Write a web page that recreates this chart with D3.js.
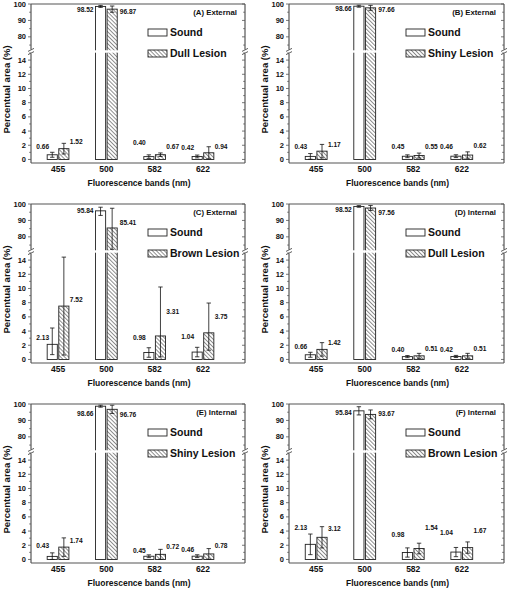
<!DOCTYPE html>
<html><head><meta charset="utf-8">
<script src="https://cdn.jsdelivr.net/npm/d3@7"></script>
<style>
body{margin:0;background:#fff}
text{font-family:"Liberation Sans",Arial,sans-serif;font-weight:bold;fill:#111}
</style>
</head><body>
<svg id="chart" width="510" height="590"></svg>
<script>
// ---------- data ----------
const bands = ["455", "500", "582", "622"];
const panelTitles = ["(A) External", "(B) External", "(C) External", "(D) Internal", "(E) Internal", "(F) Internal"];
const lesionNames = ["Dull Lesion", "Shiny Lesion", "Brown Lesion", "Dull Lesion", "Shiny Lesion", "Brown Lesion"];
const soundName = "Sound";
const soundValues = [
  [0.66, 98.52, 0.40, 0.42],
  [0.43, 98.66, 0.45, 0.46],
  [2.13, 95.84, 0.98, 1.04],
  [0.66, 98.52, 0.40, 0.42],
  [0.43, 98.66, 0.45, 0.46],
  [2.13, 95.84, 0.98, 1.04]
];
const soundErrUp = [
  [0.35, 0.6, 0.25, 0.2],
  [0.40, 0.6, 0.2, 0.2],
  [2.3, 2.2, 0.67, 0.67],
  [0.35, 0.5, 0.15, 0.15],
  [0.50, 0.6, 0.2, 0.2],
  [1.45, 2.5, 0.65, 0.65]
];
const soundErrDown = [
  [0.35, 0.6, 0.25, 0.2],
  [0.40, 0.6, 0.2, 0.2],
  [1.45, 2.8, 0.67, 0.67],
  [0.35, 0.5, 0.15, 0.15],
  [0.50, 0.6, 0.2, 0.2],
  [1.45, 2.5, 0.65, 0.65]
];
const lesionValues = [
  [1.52, 96.87, 0.67, 0.94],
  [1.17, 97.66, 0.55, 0.62],
  [7.52, 85.41, 3.31, 3.75],
  [1.42, 97.56, 0.51, 0.51],
  [1.74, 96.76, 0.72, 0.78],
  [3.12, 93.67, 1.54, 1.67]
];
const lesionErrUp = [
  [0.75, 1.9, 0.25, 0.85],
  [0.95, 1.5, 0.35, 0.45],
  [6.9, 12.0, 6.9, 4.2],
  [0.95, 1.5, 0.35, 0.35],
  [1.3, 2.5, 0.7, 0.75],
  [1.5, 2.7, 0.75, 0.8]
];
const lesionErrDown = [
  [0.75, 1.9, 0.25, 0.85],
  [0.95, 1.5, 0.35, 0.45],
  [6.9, 13.0, 2.95, 2.45],
  [0.95, 1.5, 0.35, 0.35],
  [1.3, 2.5, 0.7, 0.75],
  [1.5, 2.7, 0.75, 0.8]
];
// heights (in %) at which the value annotations sit
const soundLabelAt = [
  [1.85, 96.4, 2.4, 1.6],
  [1.86, 97.4, 1.86, 1.86],
  [3.1, 95.7, 3.0, 3.2],
  [1.86, 96.4, 1.4, 1.4],
  [1.9, 93.9, 1.2, 1.4],
  [4.5, 94.7, 3.5, 3.8]
];
const lesionLabelAt = [
  [2.5, 95.3, 1.75, 1.85],
  [2.1, 96.8, 1.86, 2.0],
  [8.4, 88.6, 6.7, 6.0],
  [2.33, 94.5, 1.5, 1.5],
  [2.7, 93.3, 1.8, 1.9],
  [4.3, 94.3, 4.5, 4.1]
];
const lowerTicks = [0, 2, 4, 6, 8, 10, 12, 14];
const lowerMinor = [1, 3, 5, 7, 9, 11, 13, 15];
const upperTicks = [80, 90, 100];
const upperMinor = [75, 85, 95];
const xTitle = "Fluorescence bands (nm)";
const yTitle = "Percentual area (%)";

// ---------- layout ----------
const cols = [{l: 31, r: 245}, {l: 289, r: 504}];
const rowTops = [4, 204, 404];
const H = 159;

const svg = d3.select("#chart");
const defs = svg.append("defs");
const pat = defs.append("pattern").attr("id", "hatch")
  .attr("patternUnits", "userSpaceOnUse").attr("width", 2.8).attr("height", 2.8)
  .attr("patternTransform", "rotate(-45)");
pat.append("rect").attr("width", 2.8).attr("height", 2.8).attr("fill", "#fff");
pat.append("line").attr("x1", 0.5).attr("y1", 0).attr("x2", 0.5).attr("y2", 2.8)
  .attr("stroke", "#666").attr("stroke-width", 0.75);

const frameColor = "#555";

panelTitles.forEach((title, i) => {
  const col = cols[i % 2];
  const top = rowTops[Math.floor(i / 2)];
  const bottom = top + H;
  const l = col.l, r = col.r;
  const g = svg.append("g");

  const x = d3.scaleLinear().domain([0.44, 4.87]).range([l, r]);
  const yL = d3.scaleLinear().domain([-0.5, 15]).range([bottom, top + 49]);
  const yU = d3.scaleLinear().domain([72, 100]).range([top + 46, top]);
  const yv = v => v > 15 ? yU(v) : yL(v);
  const brkY = top + 47.5;

  const series = [
    {vals: soundValues[i], up: soundErrUp[i], down: soundErrDown[i], lab: soundLabelAt[i],
     off: [-0.225, -0.015], fill: "#fff", side: "left"},
    {vals: lesionValues[i], up: lesionErrUp[i], down: lesionErrDown[i], lab: lesionLabelAt[i],
     off: [0.015, 0.225], fill: "url(#hatch)", side: "right"}
  ];
  series.forEach(s => {
    s.vals.forEach((v, k) => {
      const c = k + 1;
      const x0 = x(c + s.off[0]), x1 = x(c + s.off[1]);
      const y0 = yL(0), yt = yv(v);
      g.append("rect").attr("x", x0).attr("y", yt).attr("width", x1 - x0).attr("height", y0 - yt)
        .attr("fill", s.fill).attr("stroke", "#222").attr("stroke-width", 0.9);
      if (v > 15) {
        g.append("rect").attr("x", x0 - 1.5).attr("y", top + 46.3).attr("width", x1 - x0 + 3).attr("height", 2.4)
          .attr("fill", "#fff");
      }
      // error bar
      const xc = (x0 + x1) / 2;
      let hi, lo;
      if (v > 15) { hi = yU(Math.min(v + s.up[k], 100)); lo = yU(Math.max(v - s.down[k], 72)); }
      else { hi = yL(Math.min(v + s.up[k], 15)); lo = yL(Math.max(v - s.down[k], 0)); }
      g.append("line").attr("x1", xc).attr("x2", xc).attr("y1", hi).attr("y2", lo).attr("stroke", "#111").attr("stroke-width", 0.8);
      [hi, lo].forEach(yy => g.append("line").attr("x1", xc - 2.2).attr("x2", xc + 2.2).attr("y1", yy).attr("y2", yy)
        .attr("stroke", "#111").attr("stroke-width", 0.8));
      // value label
      const ly = yv(s.lab[k]);
      let lxp;
      if (v > 15) lxp = s.side === "left" ? x0 - 2 : x1 + 2.5;
      else lxp = s.side === "left" ? x0 + 2 : x1 + 0.8;
      g.append("text").attr("x", lxp).attr("y", ly).attr("dy", "0.35em")
        .attr("text-anchor", s.side === "left" ? "end" : "start").attr("font-size", 6.6)
        .text(v.toFixed(2));
    });
  });

  // frame
  g.append("line").attr("x1", l).attr("x2", r).attr("y1", top).attr("y2", top).attr("stroke", frameColor).attr("stroke-width", 1.2);
  g.append("line").attr("x1", l).attr("x2", r).attr("y1", bottom).attr("y2", bottom).attr("stroke", frameColor).attr("stroke-width", 1.2);
  [l, r].forEach(xx => {
    g.append("line").attr("x1", xx).attr("x2", xx).attr("y1", top).attr("y2", brkY - 2).attr("stroke", frameColor).attr("stroke-width", 1.2);
    g.append("line").attr("x1", xx).attr("x2", xx).attr("y1", brkY + 2).attr("y2", bottom).attr("stroke", frameColor).attr("stroke-width", 1.2);
    [-1.6, 1.6].forEach(dd => g.append("line")
      .attr("x1", xx - 3).attr("y1", brkY + dd + 1.5).attr("x2", xx + 3).attr("y2", brkY + dd - 1.5)
      .attr("stroke", "#333").attr("stroke-width", 0.8));
  });

  // y ticks left (outward) and right (inward)
  const tickSets = [
    {scale: yL, vals: lowerTicks, len: 3},
    {scale: yL, vals: lowerMinor, len: 1.8},
    {scale: yU, vals: upperTicks, len: 3},
    {scale: yU, vals: upperMinor, len: 1.8}
  ];
  tickSets.forEach(ts => ts.vals.forEach(v => {
    const yy = ts.scale(v);
    g.append("line").attr("x1", l - ts.len).attr("x2", l).attr("y1", yy).attr("y2", yy).attr("stroke", frameColor).attr("stroke-width", 0.8);
    g.append("line").attr("x1", r - ts.len).attr("x2", r).attr("y1", yy).attr("y2", yy).attr("stroke", frameColor).attr("stroke-width", 0.8);
  }));
  lowerTicks.concat(upperTicks).forEach(v => {
    const yy = v > 15 ? yU(v) : yL(v);
    g.append("text").attr("x", l - 5).attr("y", yy).attr("dy", "0.35em").attr("text-anchor", "end")
      .attr("font-size", 7.5).text(v);
  });

  // x tick labels
  bands.forEach((b, k) => {
    g.append("text").attr("x", x(k + 1)).attr("y", bottom + 6.5).attr("dy", "0.35em").attr("text-anchor", "middle")
      .attr("font-size", 8.5).text(b);
  });

  // titles
  g.append("text").attr("x", (l + r) / 2 + 1).attr("y", bottom + 20).attr("dy", "0.35em").attr("text-anchor", "middle")
    .attr("font-size", 8.5).text(xTitle);
  g.append("text").attr("transform", `translate(${l - 24},${(top + bottom) / 2 + 6}) rotate(-90)`)
    .attr("dy", "0.35em").attr("text-anchor", "middle").attr("font-size", 9.5).text(yTitle);

  // panel label
  g.append("text").attr("x", r - 8).attr("y", top + 8.5).attr("dy", "0.35em").attr("text-anchor", "end")
    .attr("font-size", 7.8).text(title);

  // legend
  const lx = l + 117;
  [{name: soundName, fill: "#fff", dy: 25}, {name: lesionNames[i], fill: "url(#hatch)", dy: 46}].forEach(it => {
    g.append("rect").attr("x", lx).attr("y", top + it.dy).attr("width", 19).attr("height", 7)
      .attr("fill", it.fill).attr("stroke", "#222").attr("stroke-width", 0.9);
    g.append("text").attr("x", lx + 22).attr("y", top + it.dy + 3.5).attr("dy", "0.35em")
      .attr("font-size", 10.5).text(it.name);
  });
});
</script>
</body></html>
